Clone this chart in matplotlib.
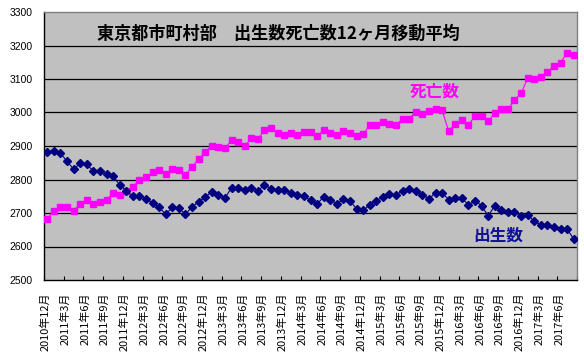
import matplotlib
matplotlib.use("Agg")
import matplotlib.pyplot as plt
import numpy as np

plt.rcParams['font.family'] = ['Noto Sans CJK JP', 'DejaVu Sans']

# monthly 12-month moving averages, 2010-12 .. 2017-08
births = [2881, 2884, 2879, 2854, 2831, 2848, 2845, 2825, 2825, 2817,
          2810, 2784, 2767, 2750, 2750, 2742, 2730, 2717, 2696, 2717,
          2714, 2696, 2719, 2733, 2748, 2763, 2755, 2745, 2775, 2775,
          2770, 2775, 2765, 2785, 2772, 2768, 2770, 2760, 2755, 2750,
          2738, 2727, 2748, 2740, 2727, 2742, 2737, 2712, 2708, 2724,
          2737, 2748, 2757, 2753, 2767, 2773, 2767, 2755, 2742, 2760,
          2760, 2740, 2745, 2745, 2724, 2737, 2722, 2691, 2722, 2710,
          2704, 2704, 2691, 2695, 2675, 2665, 2663, 2659, 2651, 2651,
          2623]
deaths = [2683, 2707, 2719, 2719, 2707, 2728, 2739, 2728, 2733, 2739,
          2760, 2755, 2767, 2778, 2799, 2807, 2821, 2828, 2817, 2832,
          2828, 2813, 2838, 2861, 2882, 2901, 2898, 2893, 2917, 2912,
          2900, 2923, 2920, 2947, 2953, 2938, 2932, 2938, 2932, 2941,
          2941, 2929, 2947, 2938, 2932, 2944, 2938, 2929, 2935, 2962,
          2962, 2971, 2965, 2962, 2982, 2982, 3002, 2995, 3004, 3010,
          3007, 2944, 2967, 2977, 2964, 2989, 2989, 2974, 2998, 3010,
          3010, 3036, 3057, 3102, 3099, 3106, 3120, 3140, 3149, 3178,
          3173]
tick_labels = ["2010年12月",
               "2011年3月", "2011年6月", "2011年9月", "2011年12月",
               "2012年3月", "2012年6月", "2012年9月", "2012年12月",
               "2013年3月", "2013年6月", "2013年9月", "2013年12月",
               "2014年3月", "2014年6月", "2014年9月", "2014年12月",
               "2015年3月", "2015年6月", "2015年9月", "2015年12月",
               "2016年3月", "2016年6月", "2016年9月", "2016年12月",
               "2017年3月", "2017年6月"]
title = "東京都市町村部　出生数死亡数12ヶ月移動平均"

x = np.arange(len(births))

fig = plt.figure(figsize=(5.84, 3.55), dpi=100)
ax = fig.add_axes([44/584, 1-280/355, (577-44)/584, (280-12)/355])
ax.set_facecolor('#C0C0C0')

for v in range(2600, 3300, 100):
    ax.axhline(v, color='black', lw=0.9, zorder=1)

ax.plot(x, deaths, color='#FF00FF', lw=0.8, marker='s', ms=4.5,
        mec='#FF00FF', mfc='#FF00FF', zorder=3)
ax.plot(x, births, color='#000080', lw=0.8, marker='D', ms=3.6,
        mec='#000080', mfc='#000080', zorder=4)

ax.set_xlim(-0.5, len(births) - 0.5)
ax.set_ylim(2500, 3300)
ax.set_yticks(range(2500, 3301, 100))
ax.tick_params(axis='y', length=0, pad=8, labelsize=7.5)
for lab in ax.get_yticklabels():
    lab.set_fontfamily(['Liberation Sans', 'DejaVu Sans'])

major = np.arange(-0.5, len(births), 3)
ax.set_xticks(major)
ax.set_xticklabels([])
ax.tick_params(axis='x', which='major', direction='in', length=3, color='black')
minor = np.arange(0, 3 * len(tick_labels), 3) - 0.25
ax.set_xticks(minor, minor=True)
ax.set_xticklabels(tick_labels, minor=True, rotation=90, fontsize=7.9,
                   va='top', ha='center')
ax.tick_params(axis='x', which='minor', length=0, pad=9)

for s in ['left', 'bottom']:
    ax.spines[s].set_color('black')
    ax.spines[s].set_linewidth(1.0)
for s in ['top', 'right']:
    ax.spines[s].set_color('#808080')
    ax.spines[s].set_linewidth(1.0)

fig.text(278.5/584, 1-34/355, title, ha='center', va='center',
         fontsize=12.3, fontweight='bold', color='black')
ax.text(58.9, 3061, "死亡数", color='#FF00FF', fontsize=12, fontweight='bold',
        ha='center', va='center', zorder=5)
ax.text(68.5, 2634, "出生数", color='#10109A', fontsize=12, fontweight='bold',
        ha='center', va='center', zorder=5)

fig.savefig('out.png', dpi=100)
